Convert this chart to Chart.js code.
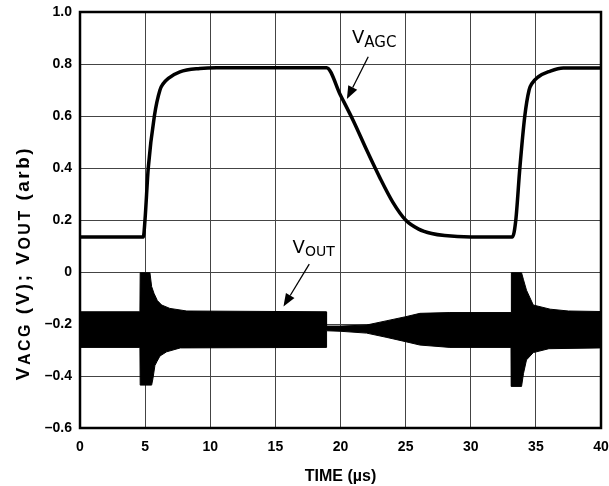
<!DOCTYPE html>
<html>
<head>
<meta charset="utf-8">
<script src="https://cdn.jsdelivr.net/npm/chart.js@4.4.1/dist/chart.umd.min.js"></script>
<style>
html, body { margin: 0; padding: 0; background: #fff; }
</style>
</head>
<body>
<canvas id="myChart" width="609" height="486"></canvas>
<script>
// tick values
const timeTicks = [0, 5, 10, 15, 20, 25, 30, 35, 40];
const voltTicks = [-0.6, -0.4, -0.2, 0, 0.2, 0.4, 0.6, 0.8, 1.0];

// V_AGC trace (time in us, volts)
const agcTime  = [0, 4.86, 4.99, 5.24, 5.71, 6.14, 6.4, 6.78, 7.67, 9.2, 10.5, 18.93, 20, 21, 22, 23, 24, 25, 26, 27, 28, 30, 33.2, 33.46, 33.77, 34.15, 34.48, 34.7, 35.17, 36.07, 37.1, 40];
const agcVolts = [0.135, 0.135, 0.2, 0.4, 0.6, 0.7, 0.725, 0.745, 0.77, 0.783, 0.786, 0.786, 0.68, 0.58, 0.47, 0.365, 0.27, 0.2, 0.165, 0.148, 0.14, 0.135, 0.135, 0.2, 0.4, 0.6, 0.7, 0.725, 0.75, 0.772, 0.785, 0.785];

// V_OUT envelope, upper edge
const outUpperTime = [0, 4.6, 4.62, 5.37, 5.5, 5.68, 5.94, 6.27, 6.9, 8.2, 18.9, 18.93, 20, 22, 23.5, 25, 26.1, 28.4, 33.1, 33.12, 33.9, 34.05, 34.28, 34.8, 36.1, 37.5, 40];
const outUpper     = [-0.153, -0.153, -0.003, -0.003, -0.056, -0.082, -0.11, -0.127, -0.14, -0.15, -0.153, -0.208, -0.208, -0.204, -0.188, -0.172, -0.159, -0.156, -0.156, -0.003, -0.003, -0.03, -0.07, -0.127, -0.143, -0.15, -0.152];

// V_OUT envelope, lower edge
const outLowerTime = [0, 4.6, 4.62, 5.5, 5.6, 5.75, 5.9, 6.14, 6.65, 7.7, 18.9, 18.93, 20, 22, 23.5, 25, 26.1, 28.4, 33.1, 33.12, 33.9, 34.05, 34.28, 34.8, 36, 40];
const outLower     = [-0.29, -0.29, -0.435, -0.435, -0.41, -0.36, -0.345, -0.323, -0.307, -0.292, -0.29, -0.226, -0.228, -0.235, -0.251, -0.268, -0.281, -0.29, -0.29, -0.44, -0.44, -0.39, -0.338, -0.31, -0.295, -0.292];

function toPoints(xs, ys) {
    return xs.map((x, i) => ({ x: x, y: ys[i] }));
}

function formatVolt(v) {
    if (Math.abs(v) < 1e-9) return '0';
    if (v < 0) return '\u2013' + Math.abs(v).toFixed(1);
    return v.toFixed(1);
}

function arrow(ctx, x1, y1, x2, y2) {
    const ang = Math.atan2(y2 - y1, x2 - x1);
    const len = 13, half = 5;
    const bx = x2 - len * Math.cos(ang), by = y2 - len * Math.sin(ang);
    ctx.beginPath();
    ctx.moveTo(x1, y1);
    ctx.lineTo(bx, by);
    ctx.lineWidth = 1.3;
    ctx.stroke();
    ctx.beginPath();
    ctx.moveTo(x2, y2);
    ctx.lineTo(bx + half * Math.sin(ang), by - half * Math.cos(ang));
    ctx.lineTo(bx - half * Math.sin(ang), by + half * Math.cos(ang));
    ctx.closePath();
    ctx.fill();
}

// draw text pieces one after another, some of them smaller and lower
function richText(ctx, parts, x, y, family) {
    let cx = x;
    parts.forEach(p => {
        ctx.font = p.font + ' ' + p.size + 'px ' + family;
        ctx.fillText(p.t, cx, y + (p.dy || 0));
        cx += ctx.measureText(p.t).width;
    });
    return cx - x;
}

function richWidth(ctx, parts, family) {
    let w = 0;
    parts.forEach(p => {
        ctx.font = p.font + ' ' + p.size + 'px ' + family;
        w += ctx.measureText(p.t).width;
    });
    return w;
}

const extras = {
    id: 'extras',
    afterDraw(chart) {
        const ctx = chart.ctx;
        const a = chart.chartArea;
        const xs = chart.scales.x, ys = chart.scales.y;
        ctx.save();
        ctx.fillStyle = '#000';
        ctx.strokeStyle = '#000';

        // frame
        ctx.lineWidth = 2.5;
        ctx.strokeRect(a.left, a.top, a.right - a.left, a.bottom - a.top);

        // curve labels with arrows
        ctx.textBaseline = 'alphabetic';
        ctx.textAlign = 'left';
        const fam = '"DejaVu Sans"';
        richText(ctx, [{ t: 'V', size: 18, font: 'normal' }, { t: 'AGC', size: 15, font: 'normal', dy: 4 }],
            xs.getPixelForValue(20.88), ys.getPixelForValue(0.88), fam);
        arrow(ctx, xs.getPixelForValue(22.13), ys.getPixelForValue(0.828), xs.getPixelForValue(20.49), ys.getPixelForValue(0.665));

        richText(ctx, [{ t: 'V', size: 18, font: 'normal' }, { t: 'OUT', size: 14, font: 'normal', dy: 2.5 }],
            xs.getPixelForValue(16.32), ys.getPixelForValue(0.072), fam);
        arrow(ctx, xs.getPixelForValue(17.6), ys.getPixelForValue(0.03), xs.getPixelForValue(15.62), ys.getPixelForValue(-0.133));

        // y axis title
        const tfam = '"Liberation Sans"';
        const title = [
            { t: 'V', size: 19, font: 'bold' },
            { t: 'ACG', size: 16, font: 'bold', dy: 1 },
            { t: ' (V); V', size: 19, font: 'bold' },
            { t: 'OUT', size: 16, font: 'bold', dy: 1 },
            { t: ' (arb)', size: 19, font: 'bold' }
        ];
        ctx.letterSpacing = '2.5px';
        const w = richWidth(ctx, title, tfam);
        ctx.translate(29, 263);
        ctx.rotate(-Math.PI / 2);
        richText(ctx, title, -w / 2, 0, tfam);
        ctx.restore();
    }
};

Chart.defaults.font.family = '"Liberation Sans", Arial, sans-serif';
Chart.defaults.font.size = 14;
Chart.defaults.font.weight = 'bold';
Chart.defaults.color = '#000';

const ctx = document.getElementById('myChart').getContext('2d');
const myChart = new Chart(ctx, {
    type: 'line',
    data: {
        datasets: [
            {
                label: 'VOUT upper',
                data: toPoints(outUpperTime, outUpper),
                borderColor: '#000',
                borderWidth: 1,
                pointRadius: 0,
                fill: false,
                tension: 0
            },
            {
                label: 'VOUT lower',
                data: toPoints(outLowerTime, outLower),
                borderColor: '#000',
                backgroundColor: '#000',
                borderWidth: 1,
                pointRadius: 0,
                fill: '-1',
                tension: 0
            },
            {
                label: 'VAGC',
                data: toPoints(agcTime, agcVolts),
                borderColor: '#000',
                borderWidth: 3.5,
                pointRadius: 0,
                fill: false,
                cubicInterpolationMode: 'monotone'
            }
        ]
    },
    options: {
        responsive: false,
        animation: false,
        layout: { padding: { top: 12, right: 8, left: 0, bottom: 0 } },
        plugins: {
            legend: { display: false },
            tooltip: { enabled: false }
        },
        scales: {
            x: {
                type: 'linear',
                min: 0,
                max: 40,
                afterBuildTicks: s => { s.ticks = timeTicks.map(v => ({ value: v })); },
                afterFit: s => { s.height = 58; s.paddingLeft = 0; s.paddingRight = 0; },
                grid: { color: '#444', lineWidth: 1, drawTicks: false },
                border: { display: false },
                ticks: { padding: 11, maxRotation: 0 },
                title: {
                    display: true,
                    text: 'TIME (\u00b5s)',
                    font: { size: 16, weight: 'bold' },
                    padding: { top: 2, bottom: 0 }
                }
            },
            y: {
                min: -0.6,
                max: 1.0,
                afterBuildTicks: s => { s.ticks = voltTicks.map(v => ({ value: v })); },
                afterFit: s => { s.width = 80; s.paddingTop = 0; s.paddingBottom = 0; },
                grid: { color: '#444', lineWidth: 1, drawTicks: false },
                border: { display: false },
                ticks: { padding: 8, callback: v => formatVolt(v) }
            }
        }
    },
    plugins: [extras]
});
</script>
</body>
</html>
